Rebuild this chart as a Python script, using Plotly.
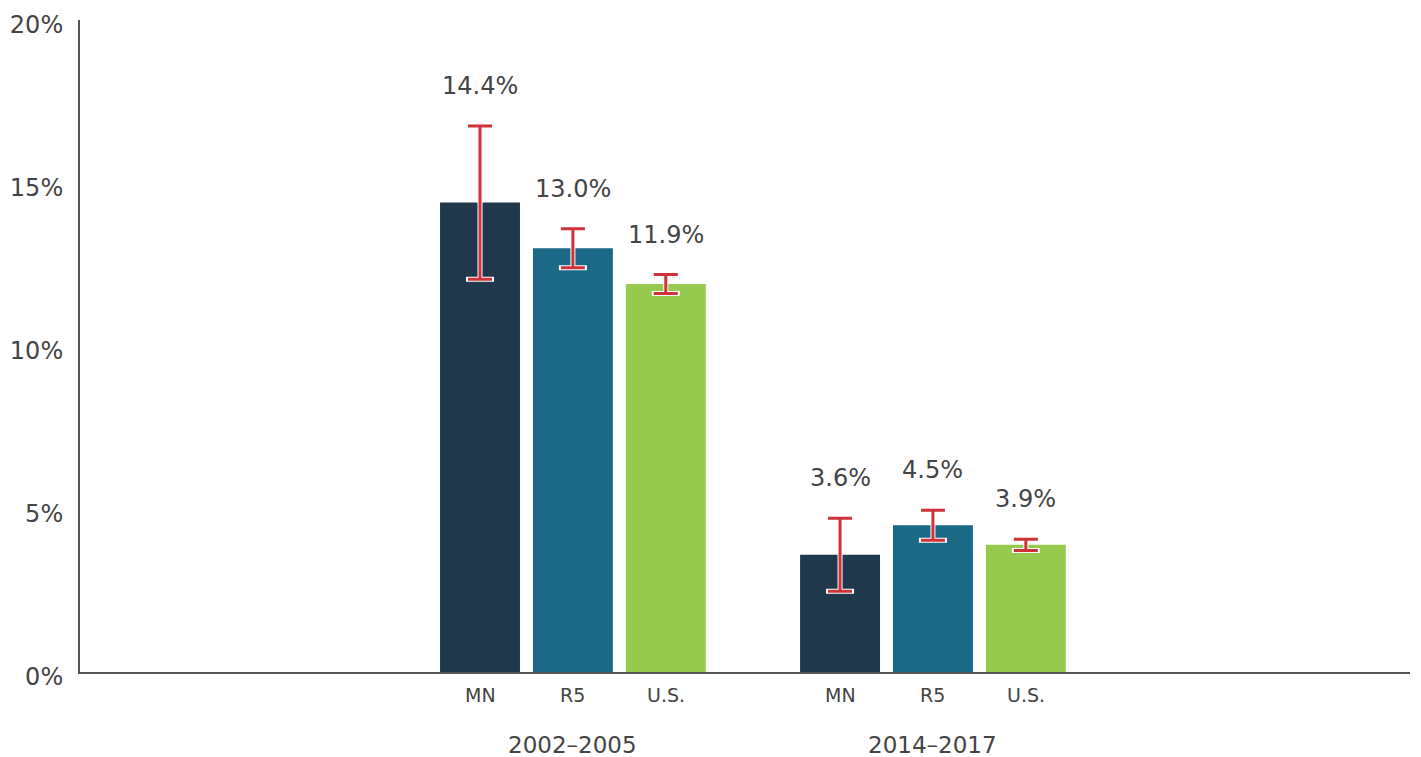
import numpy as np
import plotly.graph_objects as go

periods = ["2002–2005", "2014–2017"]
series = ["MN", "R5", "U.S."]
values = {
    "MN": [14.4, 3.6],
    "R5": [13.0, 4.5],
    "U.S.": [11.9, 3.9],
}
errors = {
    "MN": [2.35, 1.12],
    "R5": [0.6, 0.46],
    "U.S.": [0.29, 0.17],
}
colors = {"MN": "#1f384c", "R5": "#1b6987", "U.S.": "#97c94e"}
y_ticks = [0, 5, 10, 15, 20]
y_ticktext = [f"{t}%" for t in y_ticks]

FONT = "DejaVu Sans"
TXT = "#444444"
offset = 0.258
bar_w = 0.222
group_x = np.arange(len(periods))

fig = go.Figure()
annotations = []
for i, s in enumerate(series):
    xs = group_x + (i - 1) * offset
    fig.add_trace(go.Bar(x=xs, y=values[s], width=bar_w, marker_color=colors[s],
                         marker_line_width=0, showlegend=False, hoverinfo="skip"))
for i, s in enumerate(series):
    xs = group_x + (i - 1) * offset
    # white outline under red error bars
    fig.add_trace(go.Bar(x=xs, y=values[s], width=bar_w, marker_color="rgba(0,0,0,0)",
                         marker_line_width=0,
                         error_y=dict(type="data", array=errors[s], color="white",
                                      thickness=5, width=14),
                         showlegend=False, hoverinfo="skip"))
    fig.add_trace(go.Bar(x=xs, y=values[s], width=bar_w, marker_color="rgba(0,0,0,0)",
                         marker_line_width=0,
                         error_y=dict(type="data", array=errors[s], color="#d0323a",
                                      thickness=3, width=12),
                         showlegend=False, hoverinfo="skip"))
    for gx, v, e in zip(xs, values[s], errors[s]):
        annotations.append(dict(x=gx, y=v + e, xref="x", yref="y", text=f"{v:.1f}%",
                                showarrow=False, yanchor="middle", yshift=40,
                                font=dict(family=FONT, size=24, color=TXT)))
        annotations.append(dict(x=gx, y=0, xref="x", yref="paper", text=s,
                                showarrow=False, yanchor="middle", yshift=-23,
                                font=dict(family=FONT, size=19, color=TXT)))
for gx, p in zip(group_x, periods):
    annotations.append(dict(x=gx, y=0, xref="x", yref="paper", text=p,
                            showarrow=False, yanchor="middle", yshift=-73,
                            font=dict(family=FONT, size=23, color=TXT)))

fig.update_layout(
    width=1421, height=757,
    margin=dict(l=80, r=11, t=20, b=85, autoexpand=False),
    paper_bgcolor="white", plot_bgcolor="white",
    barmode="overlay",
    annotations=annotations,
    font=dict(family=FONT, color=TXT),
    xaxis=dict(range=[-1.369, 2.325], showgrid=False, zeroline=False,
               showticklabels=False, showline=True, linecolor="#555555", linewidth=2,
               fixedrange=True, automargin=False),
    yaxis=dict(range=[0, 20], tickmode="array", tickvals=y_ticks, ticktext=y_ticktext,
               showgrid=False, zeroline=False, showline=True, linecolor="#555555",
               linewidth=2, ticks="", tickfont=dict(family=FONT, size=24, color=TXT),
               ticklabelstandoff=10, ticklabelshift=5, ticklabeloverflow="allow",
               fixedrange=True, automargin=False),
)

fig.write_html(
    "out.html",
    config={"displayModeBar": False},
    post_script="document.body.style.margin='0';document.body.style.overflow='hidden';",
)
